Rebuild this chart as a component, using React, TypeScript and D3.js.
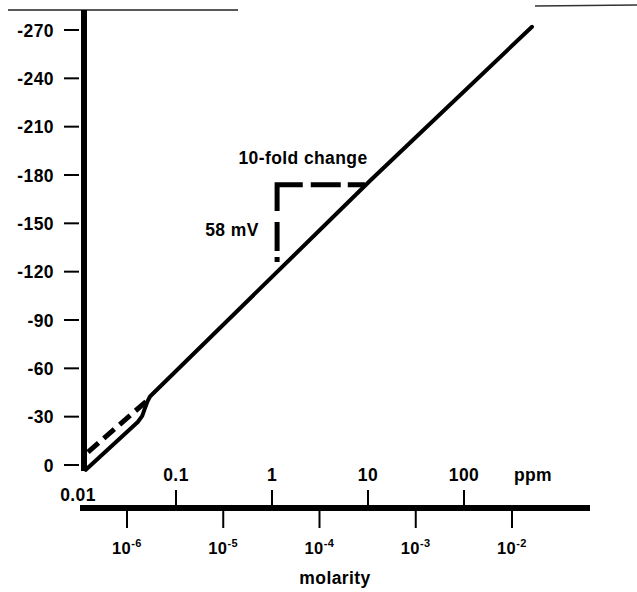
import * as d3 from 'd3';
import { useEffect, useRef } from 'react';

// mV ticks on the left axis (negative upwards)
const yTicks = [0, -30, -60, -90, -120, -150, -180, -210, -240, -270];

// ppm axis (above the bottom bar)
const ppmTicks = [0.01, 0.1, 1, 10, 100];
const ppmLabels = ['0.01', '0.1', '1', '10', '100'];

// molarity axis (below the bottom bar)
const molarTicks = [1e-6, 1e-5, 1e-4, 1e-3, 1e-2];
const molarExps = ['-6', '-5', '-4', '-3', '-2'];

// electrode response, [ppm, mV]
const responseLine = [
    [0.0115, 3],
    [0.04, -26.7],
    [0.0445, -30.5],
    [0.047, -34.5],
    [0.0505, -39.5],
    [0.0536, -42.5],
    [10.5, -176.4],
    [511, -272],
];

// dashed ideal line near the origin, [ppm, mV]
const idealLine = [
    [0.0121, -8],
    [0.0356, -32.3],
    [0.051, -40.4],
];

// slope triangle, [ppm, mV]
const slopeTriangle = [
    [1.13, -126],
    [1.13, -174],
    [9.3, -174],
];

const font = '"Liberation Sans", Arial, Helvetica, sans-serif';

const App = () => {
    const svgRef = useRef(null);

    useEffect(() => {
        const width = 637;
        const height = 592;

        const svg = d3.select(svgRef.current);
        svg.selectAll('*').remove();
        svg.attr('width', width).attr('height', height);

        const x = d3.scaleLog().domain([0.01, 100]).range([80, 464]);
        const xm = d3.scaleLog().domain([1e-6, 1e-2]).range([127, 512]);
        const y = d3.scaleLinear().domain([0, -270]).range([465, 30]);

        const label = (sel, size = 17.5) =>
            sel
                .style('font-family', font)
                .style('font-size', `${size}px`)
                .style('font-weight', 'bold')
                .style('letter-spacing', '0.4px');

        // faint top border from the scan
        svg.append('line')
            .attr('x1', 8).attr('x2', 238).attr('y1', 10).attr('y2', 10)
            .attr('stroke', '#222').attr('stroke-width', 1.5);
        svg.append('line')
            .attr('x1', 535).attr('x2', 637).attr('y1', 6).attr('y2', 5)
            .attr('stroke', '#333').attr('stroke-width', 1.5);

        // Y축
        svg.append('line')
            .attr('x1', 84).attr('x2', 84).attr('y1', 10).attr('y2', 471)
            .attr('stroke', '#000').attr('stroke-width', 6);

        const yt = svg.append('g');
        yTicks.forEach((t) => {
            yt.append('line')
                .attr('x1', 64).attr('x2', 79).attr('y1', y(t)).attr('y2', y(t))
                .attr('stroke', '#000').attr('stroke-width', 2);
            label(
                yt.append('text')
                    .attr('x', 54).attr('y', y(t) + 6.5)
                    .attr('text-anchor', 'end')
            ).text(t);
        });

        // X축 (bottom bar)
        svg.append('line')
            .attr('x1', 80).attr('x2', 590).attr('y1', 508).attr('y2', 508)
            .attr('stroke', '#000').attr('stroke-width', 6);

        ppmTicks.forEach((t, i) => {
            if (i > 0) {
                svg.append('line')
                    .attr('x1', x(t)).attr('x2', x(t)).attr('y1', 490).attr('y2', 506)
                    .attr('stroke', '#000').attr('stroke-width', 2);
            }
            label(
                svg.append('text')
                    .attr('x', i === 0 ? x(t) - 2 : x(t))
                    .attr('y', i === 0 ? 501 : 481)
                    .attr('text-anchor', 'middle')
            ).text(ppmLabels[i]);
        });
        label(svg.append('text').attr('x', 533).attr('y', 481).attr('text-anchor', 'middle')).text('ppm');

        molarTicks.forEach((t, i) => {
            svg.append('line')
                .attr('x1', xm(t)).attr('x2', xm(t)).attr('y1', 510).attr('y2', 528)
                .attr('stroke', '#000').attr('stroke-width', 2);
            const lab = label(svg.append('text').attr('x', xm(t) - 15).attr('y', 554), 16.5);
            lab.append('tspan').text('10');
            lab.append('tspan').attr('dy', -7).style('font-size', '11px').text(molarExps[i]);
        });
        label(svg.append('text').attr('x', 335).attr('y', 584).attr('text-anchor', 'middle')).text('molarity');

        const line = d3.line().x((d) => x(d[0])).y((d) => y(d[1]));

        // response curve
        svg.append('path')
            .datum(responseLine)
            .attr('d', line)
            .attr('fill', 'none').attr('stroke', '#000').attr('stroke-width', 4)
            .attr('stroke-linecap', 'round').attr('stroke-linejoin', 'round');

        // ideal dashed line
        svg.append('path')
            .datum(idealLine)
            .attr('d', line)
            .attr('fill', 'none').attr('stroke', '#000').attr('stroke-width', 5)
            .attr('stroke-dasharray', '14 7');

        // slope triangle
        svg.append('path')
            .datum(slopeTriangle)
            .attr('d', line)
            .attr('fill', 'none').attr('stroke', '#000').attr('stroke-width', 5)
            .attr('stroke-dasharray', '5 6 29 11 52 8 30 7 40');

        label(svg.append('text').attr('x', 303).attr('y', 164).attr('text-anchor', 'middle')).text('10-fold change');
        label(svg.append('text').attr('x', 232).attr('y', 236).attr('text-anchor', 'middle')).text('58 mV');
    }, []);

    return <svg ref={svgRef} style={{ position: 'absolute', left: 0, top: 0 }} />;
};

export default App;
